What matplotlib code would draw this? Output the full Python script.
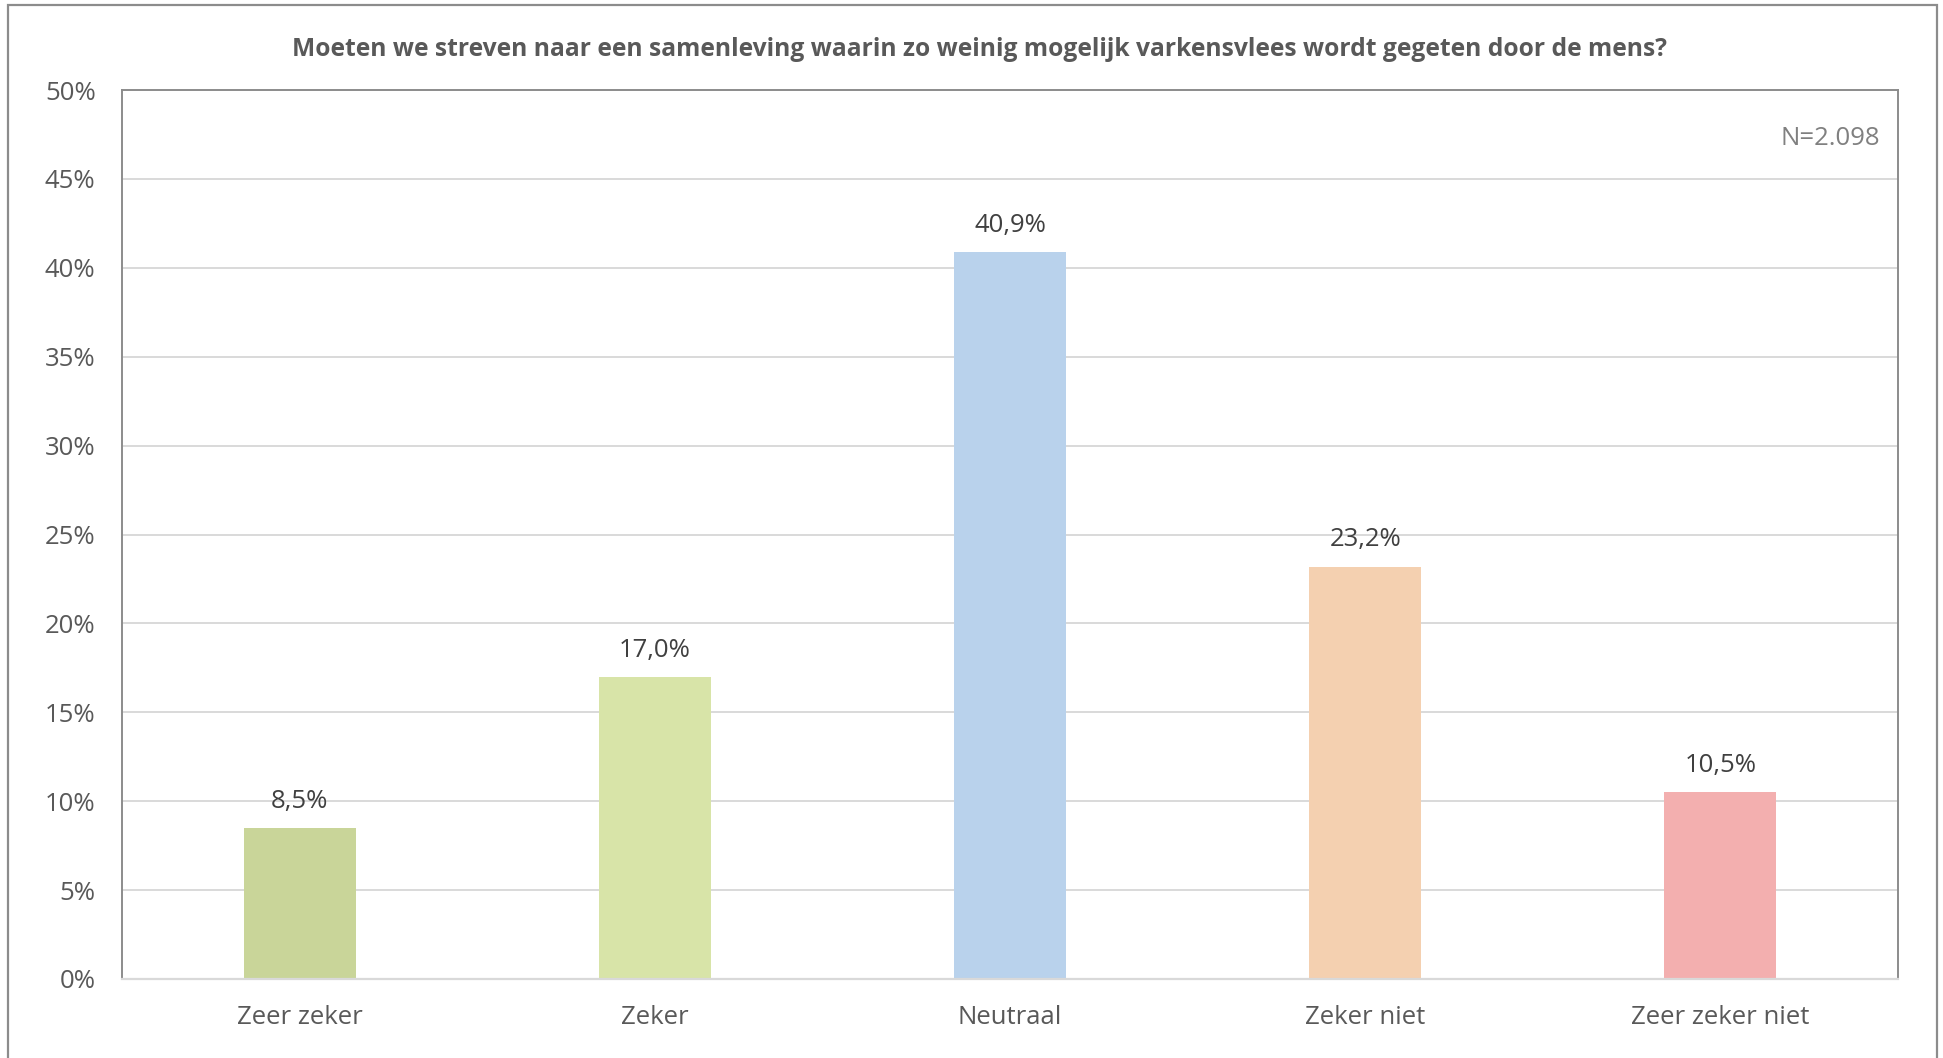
import matplotlib.pyplot as plt
from matplotlib.patches import Rectangle

categories = ["Zeer zeker", "Zeker", "Neutraal", "Zeker niet", "Zeer zeker niet"]
values = [8.5, 17.0, 40.9, 23.2, 10.5]
colors = ["#C9D599", "#D8E4A8", "#B9D2EC", "#F4D0B0", "#F3AFAF"]
yticks = [0, 5, 10, 15, 20, 25, 30, 35, 40, 45, 50]
title = "Moeten we streven naar een samenleving waarin zo weinig mogelijk varkensvlees wordt gegeten door de mens?"
n_label = "N=2.098"

W, H = 1943, 1058
fig = plt.figure(figsize=(W / 100, H / 100), dpi=100)
plt.rcParams["font.family"] = ["Open Sans", "DejaVu Sans"]

# outer chart border (bottom edge runs off the picture)
fig.patches.append(Rectangle((8 / W, -0.02), (1937 - 8) / W, (H - 5) / H + 0.02,
                             transform=fig.transFigure, fill=False,
                             edgecolor="#8c8c8c", linewidth=1.6))

ax = fig.add_axes([122 / W, 1 - 979 / H, (1898 - 122) / W, (979 - 90) / H])
x = range(len(categories))
ax.bar(x, values, width=0.315, color=colors, zorder=3)

for xi, v in zip(x, values):
    ax.text(xi, v + 0.8, f"{v:.1f}%".replace(".", ","), ha="center", va="bottom",
            fontsize=18.5, color="#404040")

ax.set_xlim(-0.5, len(categories) - 0.5)
ax.set_ylim(0, 50)
ax.set_yticks(yticks)
ax.set_yticklabels([f"{t}%" for t in yticks])
ax.set_xticks(list(x))
ax.set_xticklabels(categories)
ax.tick_params(axis="both", length=0, labelsize=18.5, labelcolor="#595959")
ax.tick_params(axis="y", pad=19)
ax.tick_params(axis="x", pad=19)
ax.grid(axis="y", color="#d9d9d9", linewidth=1.4, zorder=0)

for side in ["left", "top", "right"]:
    ax.spines[side].set_color("#8c8c8c")
    ax.spines[side].set_linewidth(1.4)
ax.spines["bottom"].set_color("#d9d9d9")
ax.spines["bottom"].set_linewidth(1.6)
ax.spines["bottom"].set_zorder(4)

ax.text(0.99, 0.945, n_label, transform=ax.transAxes, ha="right", va="center",
        fontsize=18.5, color="#808080")

fig.text(979 / W, 1 - 50 / H, title, ha="center", va="center", fontsize=17.7,
         fontweight="bold", color="#595959")

fig.savefig("out.png", dpi=100)
